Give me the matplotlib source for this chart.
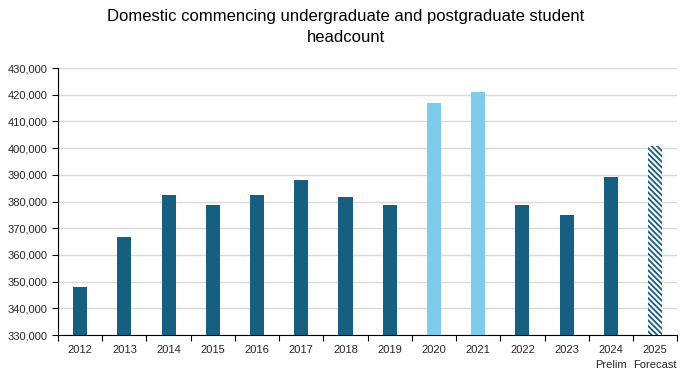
import matplotlib.pyplot as plt
import matplotlib.ticker as mticker
import numpy as np

plt.rcParams['font.family'] = ['Liberation Sans', 'DejaVu Sans']
plt.rcParams['hatch.linewidth'] = 1.3

years = ['2012', '2013', '2014', '2015', '2016', '2017', '2018', '2019',
         '2020', '2021', '2022', '2023', '2024\nPrelim', '2025\nForecast']
headcount = [348000, 366700, 382400, 378700, 382400, 388000, 381700, 378700,
             416900, 421000, 378700, 374900, 389200, 400800]
kind = ['actual'] * 8 + ['covid'] * 2 + ['actual'] * 3 + ['forecast']

dark = '#175f80'
light = '#7fcbeb'

fig = plt.figure(figsize=(6.91, 3.76), dpi=100)
ax = fig.add_axes([0.084, 0.109, 0.896, 0.71])

x = np.arange(len(years))
for i, (v, k) in enumerate(zip(headcount, kind)):
    if k == 'forecast':
        ax.bar(i, v - 330000, bottom=330000, width=0.32, color='white',
               edgecolor=dark, hatch='\\' * 6, linewidth=0, zorder=3)
    else:
        ax.bar(i, v - 330000, bottom=330000, width=0.32,
               color=light if k == 'covid' else dark, zorder=3)

ax.set_ylim(330000, 430000)
ax.set_xlim(-0.5, len(years) - 0.5)
ax.yaxis.set_major_locator(mticker.MultipleLocator(10000))
ax.yaxis.set_major_formatter(mticker.FuncFormatter(lambda v, p: f'{int(v):,}'))
ax.grid(axis='y', color='#d9d9d9', linewidth=1, zorder=0)

ax.set_xticks(np.arange(len(years) + 1) - 0.5)
ax.set_xticklabels([])
ax.set_xticks(x, minor=True)
ax.set_xticklabels(years, minor=True, fontsize=8, color='#262626', linespacing=1.7)
ax.tick_params(axis='x', which='major', length=4, direction='out', color='black')
ax.tick_params(axis='x', which='minor', length=0, pad=7)
ax.tick_params(axis='y', length=4, labelsize=8, labelcolor='#262626')

for s in ['top', 'right']:
    ax.spines[s].set_visible(False)
ax.spines['left'].set_color('black')
ax.spines['bottom'].set_color('black')

fig.suptitle('Domestic commencing undergraduate and postgraduate student\nheadcount',
             x=0.5, y=0.975, fontsize=12, color='black', linespacing=1.45)

fig.savefig('out.png', dpi=100)
